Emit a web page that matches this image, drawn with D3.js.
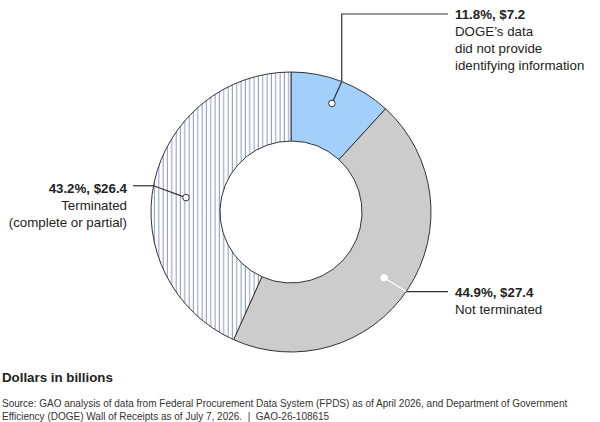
<!DOCTYPE html>
<html>
<head>
<meta charset="utf-8">
<script src="https://cdn.jsdelivr.net/npm/d3@7"></script>
<style>
  body { margin: 0; background: #fff; }
  svg text { font-family: "Liberation Sans", Arial, sans-serif; fill: #222; }
</style>
</head>
<body>
<div id="chart"></div>
<script>
// data (dollars in billions)
var categories = ["DOGE's data did not provide identifying information", "Not terminated", "Terminated (complete or partial)"];
var values = [7.2, 27.4, 26.4];
var percents = ["11.8%", "44.9%", "43.2%"];
var labelLines = [
    ["DOGE\u2019s data", "did not provide", "identifying information"],
    ["Not terminated"],
    ["Terminated", "(complete or partial)"]
];

var width = 600, height = 422;
var cx = 291, cy = 212, outerR = 140, innerR = 71;

// callout placement per slice: dot angle shift (deg), dot radius, elbow angle shift (deg)
var callout = [
    { dotShift: -0.6, dotR: 116, elbowShift: 0 },
    { dotShift: 1.9, dotR: 114, elbowShift: 1.3 },
    { dotShift: -4.3, dotR: 106, elbowShift: -1.3 }
];

var svg = d3.select("#chart").append("svg")
    .attr("width", width)
    .attr("height", height);

// hatch pattern for the terminated slice
var defs = svg.append("defs");
var pat = defs.append("pattern")
    .attr("id", "hatch")
    .attr("patternUnits", "userSpaceOnUse")
    .attr("width", 4.33)
    .attr("height", 10);
pat.append("rect").attr("width", 4.33).attr("height", 10).attr("fill", "#fff");
pat.append("line")
    .attr("x1", 2).attr("x2", 2).attr("y1", 0).attr("y2", 10)
    .attr("stroke", "#7f8eb6").attr("stroke-width", 0.9);

var fills = ["#a3d0fb", "#cccccc", "url(#hatch)"];

var pie = d3.pie().sort(null).value(function(d) { return d; });
var arcs = pie(values);

var arc = d3.arc().innerRadius(innerR).outerRadius(outerR);

var g = svg.append("g").attr("transform", "translate(" + cx + "," + cy + ")");

g.selectAll("path")
    .data(arcs)
    .enter().append("path")
    .attr("d", arc)
    .attr("fill", function(d, i) { return fills[i]; })
    .attr("stroke", "#333")
    .attr("stroke-width", 1);

function pt(a, r) {
    return [r * Math.sin(a), -r * Math.cos(a)];
}

var rad = Math.PI / 180;
var lineColor = "#333";

// leader lines and labels
arcs.forEach(function(d, i) {
    var mid = (d.startAngle + d.endAngle) / 2;
    var c = callout[i];
    var p0 = pt(mid + c.dotShift * rad, c.dotR),
        p1 = pt(mid + c.elbowShift * rad, outerR);
    var inside = (i == 1) ? "#fff" : lineColor;

    g.append("line")
        .attr("x1", p0[0]).attr("y1", p0[1])
        .attr("x2", p1[0]).attr("y2", p1[1])
        .attr("stroke", inside).attr("stroke-width", 1.2);

    var pts;
    var tx, ty, anchor;
    if (i == 0) {
        var topY = 14 - cy;
        pts = [p1, [p1[0], topY], [448 - cx, topY]];
        tx = 455 - cx; ty = topY; anchor = "start";
    } else if (i == 1) {
        pts = [p1, [448 - cx, p1[1]]];
        tx = 455 - cx; ty = p1[1]; anchor = "start";
    } else {
        pts = [p1, [133 - cx, p1[1]]];
        tx = 127 - cx; ty = p1[1] + 2; anchor = "end";
    }

    g.append("path")
        .attr("d", d3.line()(pts))
        .attr("fill", "none")
        .attr("stroke", lineColor)
        .attr("stroke-width", 1.2);

    g.append("circle")
        .attr("cx", p0[0]).attr("cy", p0[1]).attr("r", 3.3)
        .attr("fill", "#fff")
        .attr("stroke", i == 1 ? "#fff" : lineColor)
        .attr("stroke-width", 1);

    var t = g.append("text")
        .attr("x", tx).attr("y", ty + 5)
        .attr("text-anchor", anchor)
        .style("font-size", "13.3px");
    t.append("tspan")
        .attr("x", tx)
        .style("font-weight", "bold")
        .text(percents[i] + ", $" + values[i].toFixed(1));
    labelLines[i].forEach(function(line) {
        t.append("tspan")
            .attr("x", tx).attr("dy", 17)
            .text(line);
    });
});

svg.append("text")
    .attr("x", 2).attr("y", 382)
    .style("font-size", "13.3px")
    .style("font-weight", "bold")
    .text("Dollars in billions");

var source = [
    "Source: GAO analysis of data from Federal Procurement Data System (FPDS) as of April 2026, and Department of Government",
    "Efficiency (DOGE) Wall of Receipts as of July 7, 2026.  |  GAO-26-108615"
];
svg.selectAll(".src")
    .data(source)
    .enter().append("text")
    .attr("class", "src")
    .attr("x", 2)
    .attr("y", function(d, i) { return 407 + i * 12.5; })
    .style("font-size", "10px")
    .style("fill", "#333")
    .style("white-space", "pre")
    .text(function(d) { return d; });
</script>
</body>
</html>
